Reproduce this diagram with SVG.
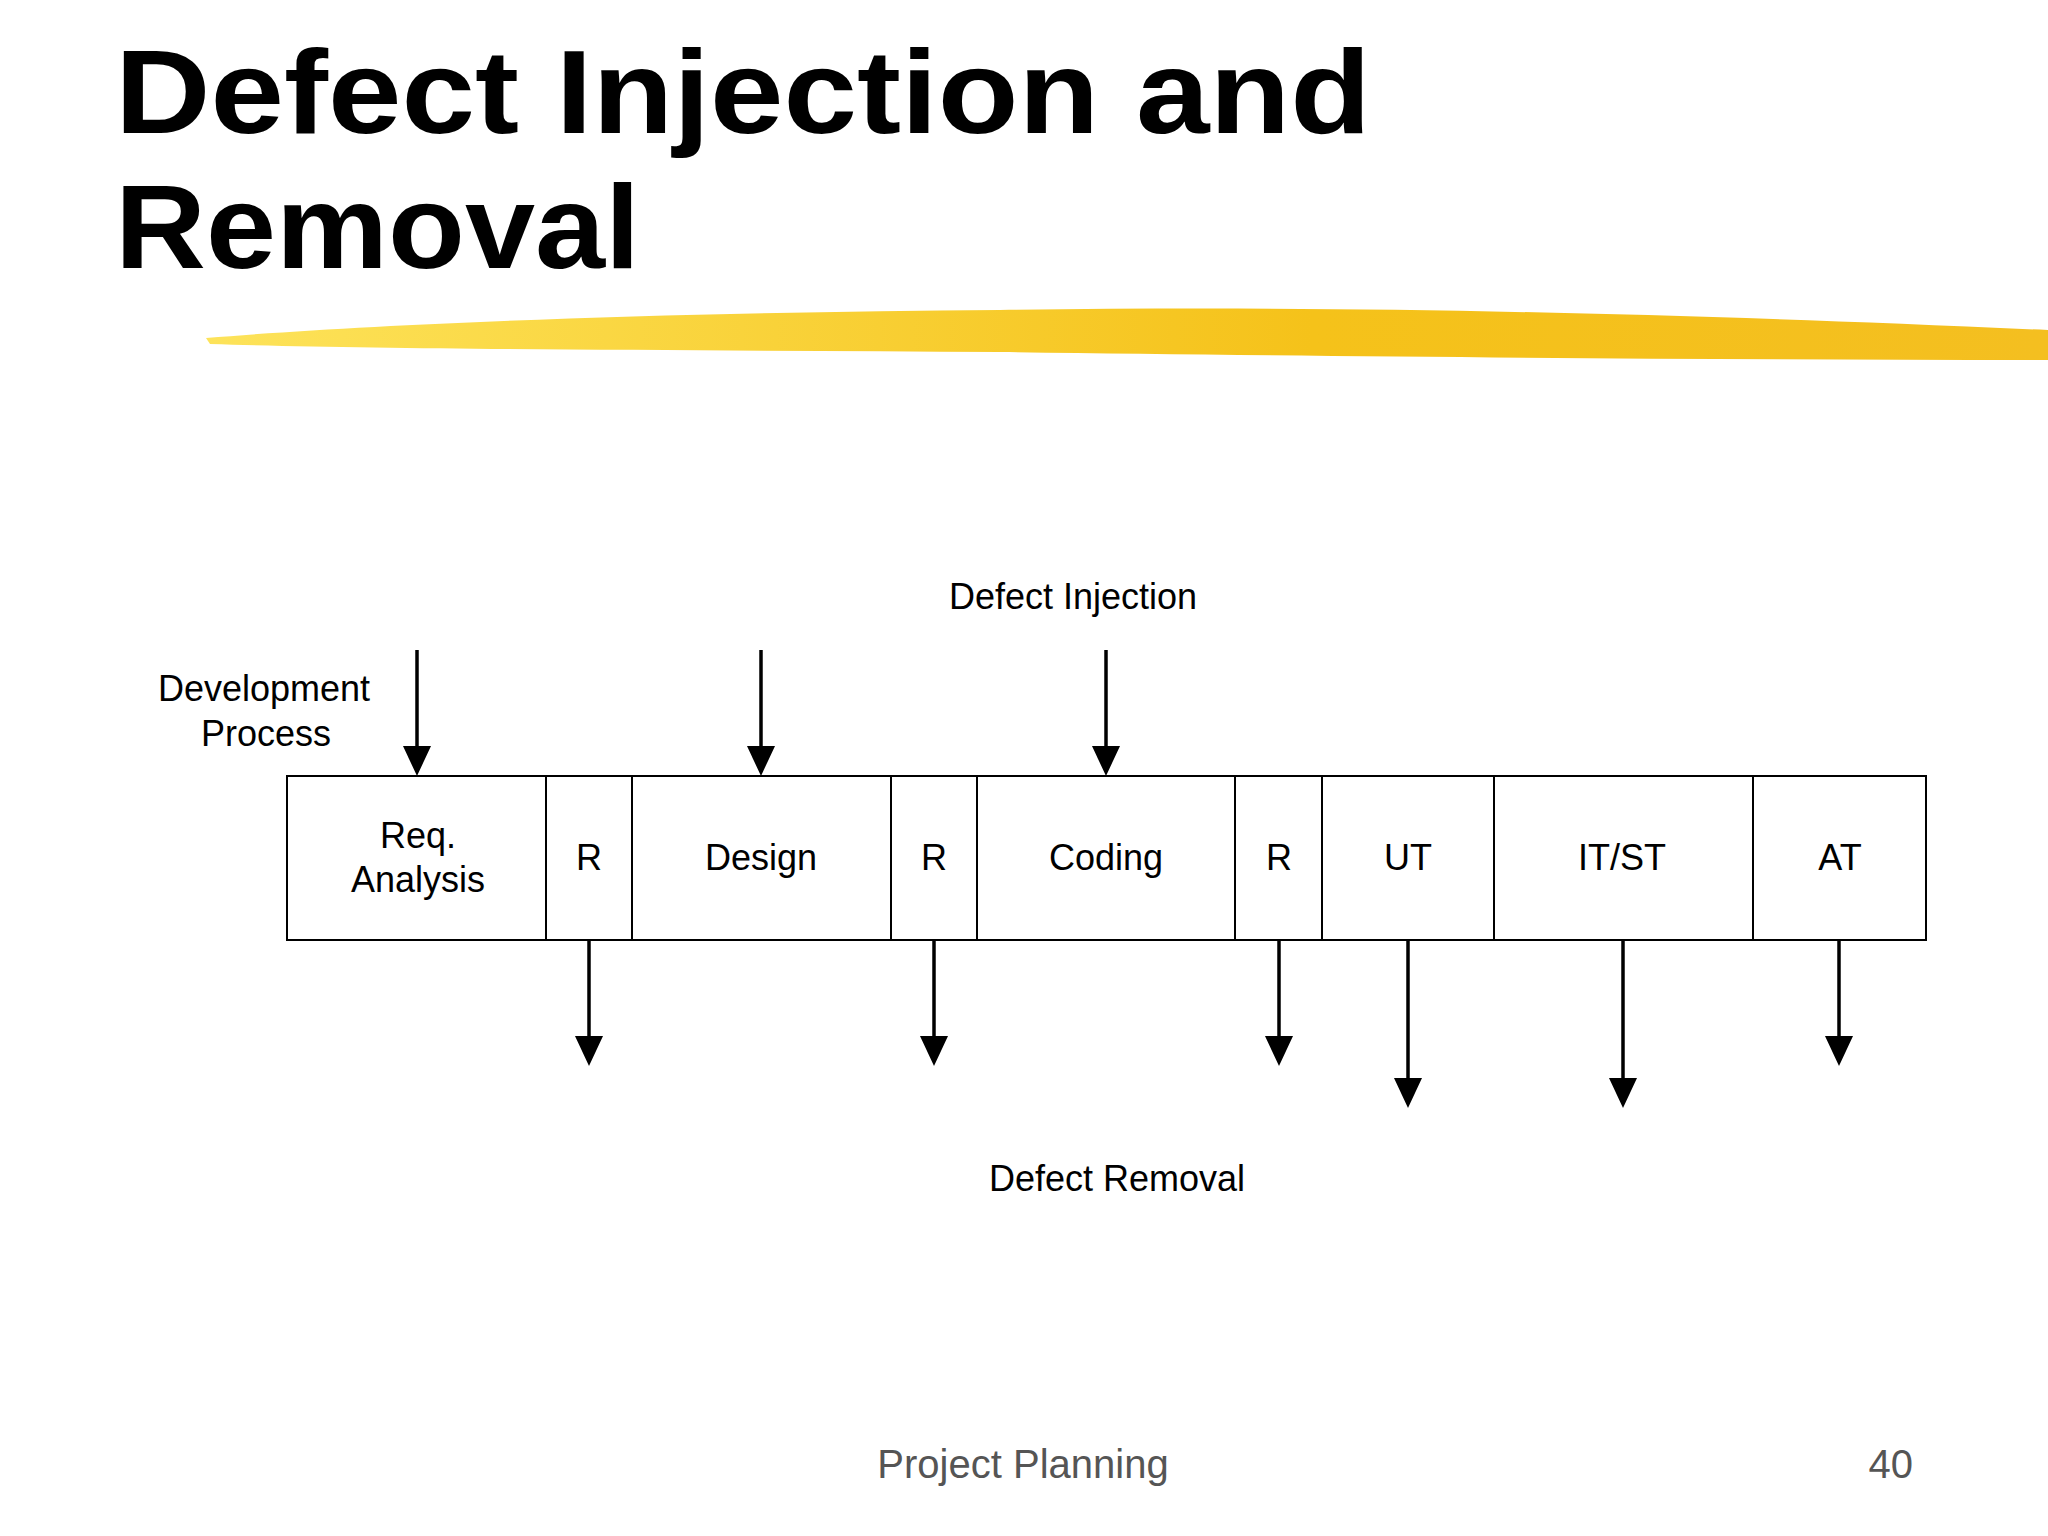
<svg xmlns="http://www.w3.org/2000/svg" width="2048" height="1536" viewBox="0 0 2048 1536">
<defs>
<linearGradient id="brush" x1="0" x2="1" y1="0" y2="0">
<stop offset="0" stop-color="#fde35a"/><stop offset="0.6" stop-color="#f5c21a"/><stop offset="1" stop-color="#f4bf20"/>
</linearGradient>
<marker id="ah" markerWidth="10" markerHeight="10" refX="8" refY="5" orient="auto" markerUnits="userSpaceOnUse" viewBox="0 0 10 10">
<path d="M0,0 L10,5 L0,10 z" fill="#000"/>
</marker>
<style>
.t{font-family:"Liberation Sans",Arial,sans-serif;font-size:36px;fill:#000;text-anchor:middle}
.box{fill:#fff;stroke:#000;stroke-width:2}
.ar{stroke:#000;stroke-width:3.5;fill:none}
.ah{fill:#000}
</style>
</defs>
<rect width="2048" height="1536" fill="#fff"/>
<text x="115" y="133" font-family="Liberation Sans,Arial,sans-serif" font-weight="900" font-size="118" textLength="1256" lengthAdjust="spacingAndGlyphs">Defect Injection and</text>
<text x="115" y="268" font-family="Liberation Sans,Arial,sans-serif" font-weight="900" font-size="118" textLength="525" lengthAdjust="spacingAndGlyphs">Removal</text>
<path d="M206,338 C400,322 700,312 1000,310 C1300,306 1600,310 2048,330 L2048,360 C1700,360 1300,356 1000,352 C700,350 400,350 210,344 Z" fill="url(#brush)"/>
<g id="nodes">
<g id="n-req"><rect class="box" x="287" y="776" width="259" height="164"/><text class="t" x="418" y="848">Req.</text><text class="t" x="418" y="892">Analysis</text></g>
<g id="n-r1"><rect class="box" x="546" y="776" width="86" height="164"/><text class="t" x="589" y="870">R</text></g>
<g id="n-design"><rect class="box" x="632" y="776" width="259" height="164"/><text class="t" x="761" y="870">Design</text></g>
<g id="n-r2"><rect class="box" x="891" y="776" width="86" height="164"/><text class="t" x="934" y="870">R</text></g>
<g id="n-coding"><rect class="box" x="977" y="776" width="258" height="164"/><text class="t" x="1106" y="870">Coding</text></g>
<g id="n-r3"><rect class="box" x="1235" y="776" width="87" height="164"/><text class="t" x="1279" y="870">R</text></g>
<g id="n-ut"><rect class="box" x="1322" y="776" width="172" height="164"/><text class="t" x="1408" y="870">UT</text></g>
<g id="n-itst"><rect class="box" x="1494" y="776" width="259" height="164"/><text class="t" x="1622" y="870">IT/ST</text></g>
<g id="n-at"><rect class="box" x="1753" y="776" width="173" height="164"/><text class="t" x="1840" y="870">AT</text></g>
</g>
<g id="labels">
<text class="t" x="1073" y="609">Defect Injection</text>
<text class="t" x="264" y="701">Development</text>
<text class="t" x="266" y="746">Process</text>
<text class="t" x="1117" y="1191">Defect Removal</text>
<text x="1023" y="1478" font-family="Liberation Sans,Arial,sans-serif" font-size="40" fill="#555" text-anchor="middle">Project Planning</text>
<text x="1913" y="1478" font-family="Liberation Sans,Arial,sans-serif" font-size="40" fill="#555" text-anchor="end">40</text>
</g>
<g id="connectors">
<line class="ar" x1="417" y1="650" x2="417" y2="750"/><path class="ah" d="M403,746 L431,746 L417,776 Z"/>
<line class="ar" x1="761" y1="650" x2="761" y2="750"/><path class="ah" d="M747,746 L775,746 L761,776 Z"/>
<line class="ar" x1="1106" y1="650" x2="1106" y2="750"/><path class="ah" d="M1092,746 L1120,746 L1106,776 Z"/>
<line class="ar" x1="589" y1="940" x2="589" y2="1040"/><path class="ah" d="M575,1036 L603,1036 L589,1066 Z"/>
<line class="ar" x1="934" y1="940" x2="934" y2="1040"/><path class="ah" d="M920,1036 L948,1036 L934,1066 Z"/>
<line class="ar" x1="1279" y1="940" x2="1279" y2="1040"/><path class="ah" d="M1265,1036 L1293,1036 L1279,1066 Z"/>
<line class="ar" x1="1408" y1="940" x2="1408" y2="1082"/><path class="ah" d="M1394,1078 L1422,1078 L1408,1108 Z"/>
<line class="ar" x1="1623" y1="940" x2="1623" y2="1082"/><path class="ah" d="M1609,1078 L1637,1078 L1623,1108 Z"/>
<line class="ar" x1="1839" y1="940" x2="1839" y2="1040"/><path class="ah" d="M1825,1036 L1853,1036 L1839,1066 Z"/>
</g>
</svg>
